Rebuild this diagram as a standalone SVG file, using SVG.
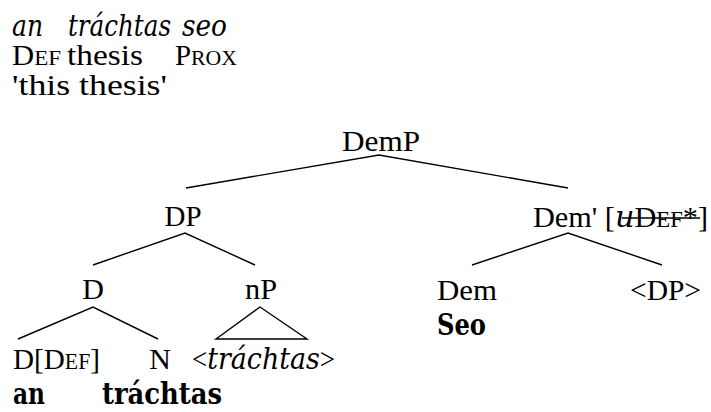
<svg xmlns="http://www.w3.org/2000/svg" width="711" height="412" viewBox="0 0 711 412">
<style>
text{font-family:"Liberation Serif","Times New Roman",serif;fill:#000}
.g{font-size:29px}
.t{font-size:30px}
.m{text-anchor:middle}
.it{font-family:"DejaVu Serif","Liberation Serif",serif;font-style:italic}
.b{font-family:"DejaVu Serif","Liberation Serif",serif;font-weight:bold}
.sc{font-size:0.75em}
.edge{stroke:#000;stroke-width:1.4;fill:none}
</style>
<rect width="711" height="412" fill="#fff"/>
<g id="example">
<text class="g it" x="12" y="36" textLength="31" lengthAdjust="spacingAndGlyphs">an</text>
<text class="g it" x="68" y="36" textLength="103" lengthAdjust="spacingAndGlyphs">tráchtas</text>
<text class="g it" x="182" y="36" textLength="45" lengthAdjust="spacingAndGlyphs">seo</text>
<text class="g" x="12" y="65" textLength="49" lengthAdjust="spacingAndGlyphs">D<tspan class="sc">EF</tspan></text>
<text class="g" x="67" y="65" textLength="76" lengthAdjust="spacingAndGlyphs">thesis</text>
<text class="g" x="175" y="65" textLength="62" lengthAdjust="spacingAndGlyphs">P<tspan class="sc">ROX</tspan></text>
<text class="g" x="12" y="95" textLength="155" lengthAdjust="spacingAndGlyphs">'this thesis'</text>
</g>
<g id="connectors">
<polyline class="edge" points="186,188 379,155 568,188"/>
<polyline class="edge" points="93,265 185,233 255,265"/>
<polyline class="edge" points="18,339 93,307 158,339"/>
<polygon class="edge" points="260,307 216,339 307,339"/>
<polyline class="edge" points="472,265 568,233 662,265"/>
</g>
<g id="DemP"><text class="t m" x="381" y="151" textLength="78" lengthAdjust="spacingAndGlyphs">DemP</text></g>
<g id="DP"><text class="t m" x="183" y="226" textLength="37" lengthAdjust="spacingAndGlyphs">DP</text></g>
<g id="DemBar">
<text class="t" x="533" y="227" textLength="175" lengthAdjust="spacingAndGlyphs">Dem' [<tspan class="it">u</tspan>D<tspan class="sc">EF</tspan>*]</text>
<line class="edge" x1="622" y1="218" x2="700" y2="218"/>
</g>
<g id="D"><text class="t m" x="93" y="299">D</text></g>
<g id="nP"><text class="t m" x="261" y="299" textLength="32" lengthAdjust="spacingAndGlyphs">nP</text></g>
<g id="Dem">
<text class="t" x="437" y="300" textLength="60" lengthAdjust="spacingAndGlyphs">Dem</text>
<text class="t b" x="437" y="335" textLength="49" lengthAdjust="spacingAndGlyphs">Seo</text>
</g>
<g id="DPtrace"><text class="t" x="630" y="300" textLength="71" lengthAdjust="spacingAndGlyphs">&lt;DP&gt;</text></g>
<g id="Ddef">
<text class="t" x="13" y="369" textLength="87" lengthAdjust="spacingAndGlyphs">D[D<tspan class="sc">EF</tspan>]</text>
<text class="t b" x="13" y="404" textLength="32" lengthAdjust="spacingAndGlyphs">an</text>
</g>
<g id="N">
<text class="t m" x="160" y="369">N</text>
<text class="t b" x="102" y="404" textLength="120" lengthAdjust="spacingAndGlyphs">tráchtas</text>
</g>
<g id="nPcontent"><text class="t" x="192" y="369" textLength="143" lengthAdjust="spacingAndGlyphs">&lt;<tspan class="it">tráchtas</tspan>&gt;</text></g>
</svg>
